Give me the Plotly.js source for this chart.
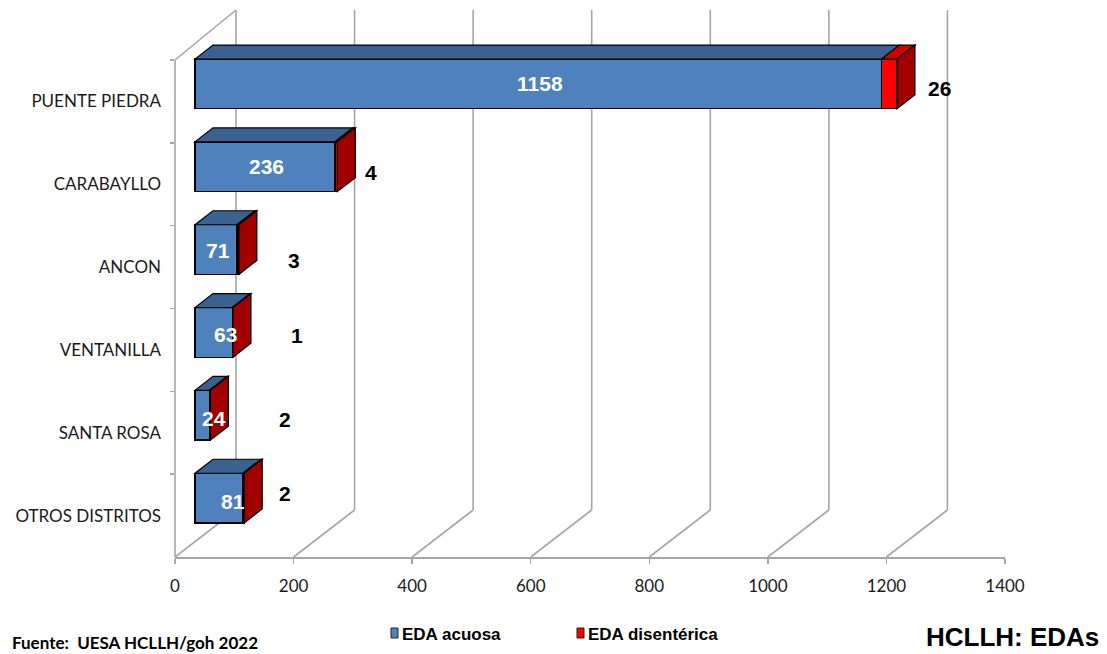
<!DOCTYPE html>
<html><head><meta charset="utf-8">
<script src="https://cdn.plot.ly/plotly-3.0.1.min.js"></script>
<style>html,body{margin:0;padding:0;background:#fff}#chart{width:1107px;height:654px}</style>
</head><body><div id="chart"></div>
<script>
// ---- data ----
const categories = ["PUENTE PIEDRA","CARABAYLLO","ANCON","VENTANILLA","SANTA ROSA","OTROS DISTRITOS"];
const edaAcuosa = [1158,236,71,63,24,81];
const edaDisenterica = [26,4,3,1,2,2];
const xTicks = [0,200,400,600,800,1000,1200,1400];
const seriesNames = ["EDA acuosa","EDA disentérica"];
const sourceText = "Fuente:  UESA HCLLH/goh 2022";
const cornerTitle = "HCLLH: EDAs";

// ---- geometry / style ----
const W=1107,H=654;
const frontTop=60, frontBottom=557, ML=175, MR=102, MT=5;
const MB=H-frontBottom, PW=W-ML-MR, PH=frontBottom-MT;
const nCat=categories.length;
const XMAX=xTicks[xTicks.length-1];
const unitPx=PW/XMAX, catPx=(frontBottom-frontTop)/nCat;
const extraTop=(frontTop-MT)/catPx;
const barShiftX=20, barShiftUp=17.5;        // bar front plane offset (px)
const depthX=18, depthY=14;                  // bar depth (px)
const wallX=61, wallFloorY=47, wallTopPx=10; // back wall offset (px)
const dxU=depthX/unitPx, dyU=depthY/catPx, hw=0.3;
const numFont="Liberation Sans Narrow, Arial Narrow, Liberation Sans, Arial, sans-serif";
const lblFont="Lato, Carlito, Calibri, sans-serif";
const grey="#a6a6a6";
const C={blue:"#4f81bd",blueTop:"#3a6190",red:"#ff0000",redTop:"#d40000",redSide:"#a00000"};
const idx=categories.map((c,i)=>i);
const pY=px=>(frontBottom-px)/PH;
const pX=px=>(px-ML)/PW;

const traces=[
 {type:"scatter",x:categories.map(()=>0),y:categories,mode:"markers",marker:{opacity:0},hoverinfo:"skip",showlegend:false,xaxis:"x",yaxis:"y"},
 {type:"bar",orientation:"h",name:seriesNames[0],x:edaAcuosa,y:idx,width:2*hw,xaxis:"x2",yaxis:"y2",
  marker:{color:C.blue,line:{color:"#000",width:1.3}},showlegend:false},
 {type:"bar",orientation:"h",name:seriesNames[1],x:edaDisenterica,y:idx,width:2*hw,xaxis:"x2",yaxis:"y2",
  marker:{color:C.red,line:{color:"#000",width:1.3}},showlegend:false}
];

const shapes=[];
// back wall + floor + side wall
xTicks.forEach(t=>{
  shapes.push({type:"line",layer:"below",xref:"x",xsizemode:"pixel",xanchor:t,x0:wallX,x1:wallX,yref:"paper",y0:wallFloorY/PH,y1:pY(wallTopPx),line:{color:grey,width:1.6}});
  shapes.push({type:"line",layer:"below",xref:"x",xsizemode:"pixel",xanchor:t,x0:0,x1:wallX,yref:"paper",y0:0,y1:wallFloorY/PH,line:{color:grey,width:1.6}});
});
shapes.push({type:"line",layer:"below",xref:"x",xsizemode:"pixel",xanchor:0,x0:0,x1:wallX,yref:"paper",y0:pY(frontTop),y1:pY(wallTopPx),line:{color:grey,width:1.6}});
shapes.push({type:"line",layer:"below",xref:"paper",x0:0,x1:0,yref:"y",y0:-0.5,y1:nCat-0.5,line:{color:grey,width:1.6}});
// 3D faces of bars
const ln={color:"#000",width:1.2};
idx.forEach(i=>{
  const a=edaAcuosa[i], r=edaDisenterica[i], T=a+r;
  const yf=i-hw, yb=i-hw-dyU, yfb=i+hw, ybb=i+hw-dyU;
  shapes.push({type:"path",layer:"above",xref:"x2",yref:"y2",fillcolor:C.blueTop,line:ln,
    path:`M0,${yf}L${a},${yf}L${a+dxU},${yb}L${dxU},${yb}Z`});
  shapes.push({type:"path",layer:"above",xref:"x2",yref:"y2",fillcolor:C.redTop,line:ln,
    path:`M${a},${yf}L${T},${yf}L${T+dxU},${yb}L${a+dxU},${yb}Z`});
  shapes.push({type:"path",layer:"above",xref:"x2",yref:"y2",fillcolor:C.redSide,line:ln,
    path:`M${T},${yf}L${T+dxU},${yb}L${T+dxU},${ybb}L${T},${yfb}Z`});
});

const annotations=[];
const valFont={family:numFont,size:21,weight:"bold"};
// label nudges (px)
const blueNudge=[[2,0],[2,0],[2,-1],[12,-2],[12,-3],[14,-3]];
const redNudge=[[43,-5],[34,-6],[55,-11],[64,-3],[75,-4],[41,5]];
idx.forEach(i=>{
  annotations.push({xref:"x2",yref:"y2",x:edaAcuosa[i]/2,y:i,text:String(edaAcuosa[i]),showarrow:false,
    xshift:blueNudge[i][0],yshift:blueNudge[i][1],
    font:Object.assign({color:"#fff"},valFont),xanchor:"center",yanchor:"middle"});
  annotations.push({xref:"x2",yref:"y2",x:edaAcuosa[i]+edaDisenterica[i],y:i,text:String(edaDisenterica[i]),showarrow:false,
    xshift:redNudge[i][0],yshift:redNudge[i][1],
    font:Object.assign({color:"#000"},valFont),xanchor:"center",yanchor:"middle"});
});
// legend (manual)
const legFont={family:numFont,size:17,color:"#000",weight:"bold"};
[[391,C.blue,seriesNames[0]],[577,C.red,seriesNames[1]]].forEach(([x,col,name])=>{
  shapes.push({type:"rect",xref:"paper",yref:"paper",x0:pX(x),x1:pX(x+7),y0:pY(638),y1:pY(628),fillcolor:col,line:{color:"#222",width:1}});
  annotations.push({xref:"paper",yref:"paper",x:pX(x+9),y:pY(634),text:name,showarrow:false,xanchor:"left",yanchor:"middle",font:legFont});
});
annotations.push({xref:"paper",yref:"paper",x:pX(10),y:pY(642),text:sourceText,showarrow:false,xanchor:"left",yanchor:"middle",
  font:{family:lblFont,size:17,color:"#000",weight:"bold"}});
annotations.push({xref:"paper",yref:"paper",x:pX(1101),y:pY(637),text:cornerTitle,showarrow:false,xanchor:"right",yanchor:"middle",
  font:{family:"Liberation Sans, Arial, sans-serif",size:26,color:"#000",weight:"bold"}});

const layout={
  width:W,height:H,margin:{l:ML,r:MR,t:MT,b:MB},paper_bgcolor:"#fff",plot_bgcolor:"rgba(0,0,0,0)",
  barmode:"stack",showlegend:false,
  xaxis:{range:[0,XMAX],tickvals:xTicks,ticks:"outside",ticklen:5,tickwidth:1.5,tickcolor:grey,showline:true,linecolor:grey,linewidth:1.6,
    showgrid:false,zeroline:false,tickfont:{family:lblFont,size:17,color:"#1a1a1a"},ticklabelstandoff:8,fixedrange:true},
  yaxis:{type:"category",categoryarray:categories,categoryorder:"array",range:[nCat-0.5,-0.5-extraTop],tickson:"boundaries",
    ticks:"outside",ticklen:4,tickwidth:1.5,tickcolor:grey,showline:false,showgrid:false,zeroline:false,
    tickfont:{family:lblFont,size:17,color:"#1a1a1a"},ticklabelstandoff:13,fixedrange:true},
  xaxis2:{overlaying:"x",anchor:"y2",range:[-barShiftX/unitPx,XMAX-barShiftX/unitPx],visible:false,fixedrange:true},
  yaxis2:{overlaying:"y",anchor:"x2",type:"linear",range:[nCat-0.5+barShiftUp/catPx,-0.5-extraTop+barShiftUp/catPx],visible:false,fixedrange:true},
  shapes:shapes,annotations:annotations
};
Plotly.newPlot("chart",traces,layout,{displayModeBar:false,staticPlot:true});
</script></body></html>
